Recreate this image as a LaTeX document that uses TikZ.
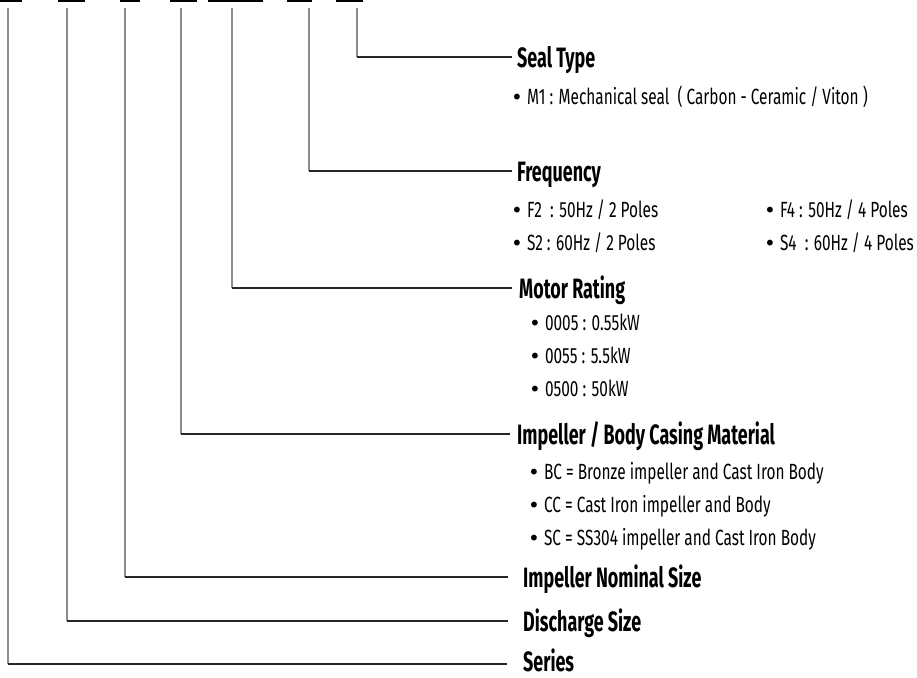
\documentclass[tikz,border=0pt]{standalone}
\usepackage{fontspec}
\setmainfont{Fira Sans}[FakeStretch=0.70]
\newfontfamily\headfont{Fira Sans}[FakeStretch=0.64]
\newfontfamily\dotfont{DejaVu Sans}
\begin{document}
\begin{tikzpicture}[x=1pt,y=-1pt,
  vline/.style={draw=black!45, line width=1.1pt},
  hline/.style={draw=black!85, line width=1.3pt},
  bar/.style={fill=black},
  head/.style={anchor=base west, inner sep=0pt, font=\headfont\bfseries\fontsize{28}{30}\selectfont},
  item/.style={anchor=base west, inner sep=0pt, font=\fontsize{22}{24}\selectfont}]
\useasboundingbox (0,0) rectangle (917,677);
\newcommand\blt{{\dotfont\fontsize{20}{24}\selectfont•}\hspace{4pt}}
% code bars at the top edge
\fill[bar] (0,0) rectangle (22,2);
\fill[bar] (58,0) rectangle (85,2);
\fill[bar] (120,0) rectangle (140,2);
\fill[bar] (170,0) rectangle (197,2);
\fill[bar] (208,0) rectangle (263,2);
\fill[bar] (287,0) rectangle (312,2);
\fill[bar] (336,0) rectangle (363,2);
% headings
\node[head] (seal) at (517,67) {Seal Type};
\node[head] (freq) at (517,181) {Frequency};
\node[head] (motor) at (519,298) {Motor Rating};
\node[head] (mat) at (517,444) {Impeller / Body Casing Material};
\node[head] (nom) at (523,587) {Impeller Nominal Size};
\node[head] (dis) at (523,631) {Discharge Size};
\node[head] (ser) at (523,671) {Series};
% items
\node[item] (m1) at (511,104) {\blt M1 : Mechanical seal\ \ ( Carbon - Ceramic / Viton )};
\node[item] (f2) at (511,217) {\blt F2\ \ : 50Hz / 2 Poles};
\node[item] (s2) at (511,250) {\blt S2 : 60Hz / 2 Poles};
\node[item] (f4) at (764,217) {\blt F4 : 50Hz / 4 Poles};
\node[item] (s4) at (764,250) {\blt S4\ \ : 60Hz / 4 Poles};
\node[item] (r1) at (529,330) {\blt 0005 : 0.55kW};
\node[item] (r2) at (529,363) {\blt 0055 : 5.5kW};
\node[item] (r3) at (529,396) {\blt 0500 : 50kW};
\node[item] (b1) at (528,479) {\blt BC = Bronze impeller and Cast Iron Body};
\node[item] (b2) at (528,512) {\blt CC = Cast Iron impeller and Body};
\node[item] (b3) at (528,545) {\blt SC = SS304 impeller and Cast Iron Body};
% connector coordinates
\coordinate (t7) at (357,8);  \coordinate (k7) at (357,57);  \coordinate (e7) at (512,57);
\coordinate (t6) at (309,8);  \coordinate (k6) at (309,171); \coordinate (e6) at (512,171);
\coordinate (t5) at (232,8);  \coordinate (k5) at (232,288); \coordinate (e5) at (512,288);
\coordinate (t4) at (181,8);  \coordinate (k4) at (181,434); \coordinate (e4) at (510,434);
\coordinate (t3) at (125,8);  \coordinate (k3) at (125,577); \coordinate (e3) at (508,577);
\coordinate (t2) at (67,8);   \coordinate (k2) at (67,621);  \coordinate (e2) at (508,621);
\coordinate (t1) at (8,8);    \coordinate (k1) at (8,664);   \coordinate (e1) at (507,664);
\foreach \i in {1,...,7}{
  \draw[vline] (t\i) -- (k\i);
  \draw[hline] (k\i) -- (e\i);
}
\end{tikzpicture}
\end{document}
